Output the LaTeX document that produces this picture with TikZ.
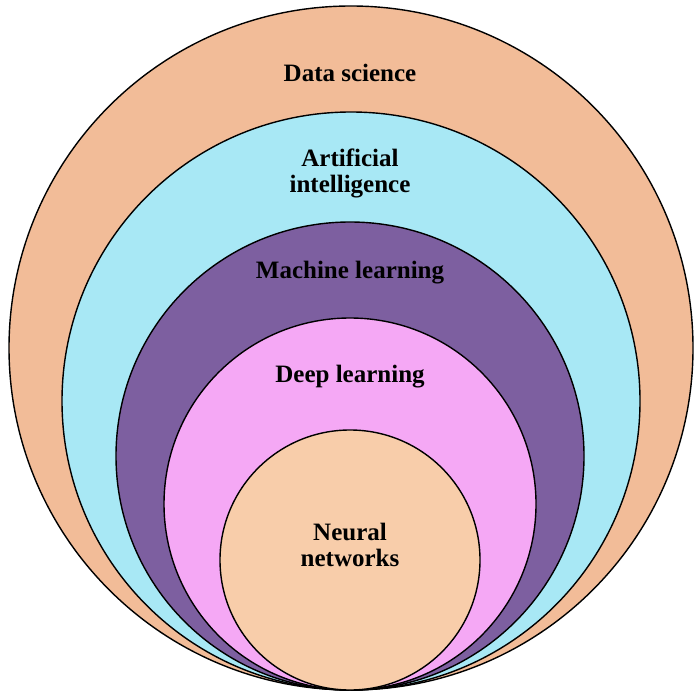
\documentclass[tikz,border=0pt]{standalone}
\usepackage{fontspec}
\setmainfont{Liberation Serif}
\begin{document}
\begin{tikzpicture}[x=1pt,y=-1pt,
  ring/.style={draw=black,line width=1.4pt},
  lab/.style={font=\fontsize{25}{26}\selectfont\bfseries,align=center,text=black}]
\useasboundingbox (0,0) rectangle (700,700);
\definecolor{cDS}{HTML}{F2BC98}
\definecolor{cAI}{HTML}{A8E8F5}
\definecolor{cML}{HTML}{7D5FA0}
\definecolor{cDL}{HTML}{F5A8F5}
\definecolor{cNN}{HTML}{F8CDAA}
\fill[ring,fill=cDS] (351,348) circle (342);
\fill[ring,fill=cAI] (351,401) circle (289);
\fill[ring,fill=cML] (350,456) circle (234);
\fill[ring,fill=cDL] (350,504) circle (186);
\fill[ring,fill=cNN] (350,560) circle (130);
\node[lab] (ds) at (350,73) {Data science};
\node[lab] (ai) at (350,173) {Artificial\\intelligence};
\node[lab] (ml) at (350,273) {Machine learning};
\node[lab] (dl) at (350,377) {Deep learning};
\node[lab] (nn) at (350,545) {Neural\\networks};
\end{tikzpicture}
\end{document}
